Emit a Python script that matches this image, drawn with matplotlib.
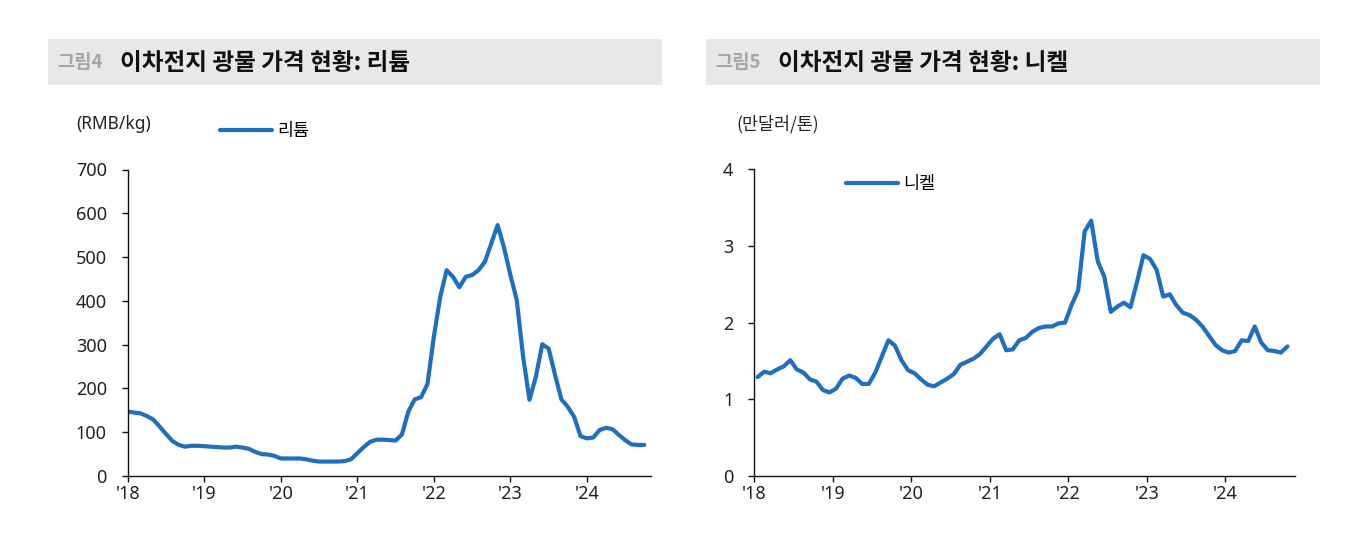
import numpy as np
import matplotlib
matplotlib.use("Agg")
import matplotlib.pyplot as plt
from matplotlib.patches import Rectangle

plt.rcParams['font.family'] = ['Noto Sans', 'Noto Sans CJK KR', 'DejaVu Sans']
KR = ['Noto Sans CJK KR', 'DejaVu Sans']

# ---- data (monthly, Jan 2018 ~ Oct 2024) ----
year_labels = ["'18", "'19", "'20", "'21", "'22", "'23", "'24"]

lithium = [147, 145, 143, 137, 129, 113, 96, 80, 71, 67, 69, 69,
           68, 67, 66, 65, 65, 67, 65, 62, 55, 50, 49, 46,
           40, 40, 40, 40, 38, 35, 33, 33, 33, 33, 34, 38,
           52, 66, 78, 83, 83, 82, 81, 95, 147, 175, 180, 210,
           318, 409, 470, 455, 431, 455, 459, 470, 489, 531, 573, 522,
           459, 402, 272, 174, 227, 301, 291, 231, 175, 158, 135, 91,
           86, 88, 105, 110, 107, 94, 82, 72, 71, 71]

nickel = [1.29, 1.36, 1.34, 1.39, 1.43, 1.51, 1.39, 1.35, 1.26, 1.23, 1.12, 1.09,
          1.14, 1.27, 1.31, 1.28, 1.20, 1.20, 1.35, 1.56, 1.77, 1.70, 1.51, 1.38,
          1.34, 1.26, 1.19, 1.17, 1.22, 1.27, 1.33, 1.45, 1.49, 1.53, 1.59, 1.69,
          1.79, 1.85, 1.64, 1.65, 1.77, 1.80, 1.88, 1.93, 1.95, 1.95, 1.99, 2.00,
          2.23, 2.42, 3.19, 3.33, 2.80, 2.60, 2.14, 2.21, 2.26, 2.20, 2.53, 2.88,
          2.83, 2.69, 2.34, 2.37, 2.23, 2.13, 2.10, 2.04, 1.95, 1.83, 1.71, 1.64,
          1.61, 1.63, 1.77, 1.76, 1.95, 1.74, 1.64, 1.63, 1.61, 1.69]

LINE_COLOR = "#1f6ebf"
W, H = 1356, 539

fig = plt.figure(figsize=(W / 100, H / 100), dpi=100)

def fx(px):
    return px / W

def fy(py):
    return 1 - py / H

# ---- title bars ----
for x0, num, title in [(48, "그림4", "이차전지 광물 가격 현황: 리튬"),
                       (706, "그림5", "이차전지 광물 가격 현황: 니켈")]:
    fig.patches.append(Rectangle((fx(x0), fy(85)), fx(614), 46 / H,
                                 transform=fig.transFigure,
                                 facecolor="#e8e8e8", edgecolor="none"))
    fig.text(fx(x0 + 9), fy(63), num, fontsize=13.5, fontweight="bold",
             color="#a6a6a6", va="center", ha="left", family=KR)
    fig.text(fx(x0 + 72), fy(63), title, fontsize=17, fontweight="bold",
             color="#111111", va="center", ha="left", family=KR)


def style_axis(ax):
    for s in ["top", "right"]:
        ax.spines[s].set_visible(False)
    for s in ["left", "bottom"]:
        ax.spines[s].set_color("#111111")
        ax.spines[s].set_linewidth(1.0)
    ax.tick_params(axis="both", direction="out", length=4.5, width=1,
                   color="#111111", labelsize=13, labelcolor="#222222")
    ax.tick_params(axis="y", pad=10.5)
    ax.tick_params(axis="x", pad=2)


# ---- left: lithium ----
ax1 = fig.add_axes([fx(127.7), fy(476), fx(650.7 - 127.7), (476 - 169.5) / H])
x1 = np.arange(len(lithium))
ax1.plot(x1, lithium, color=LINE_COLOR, lw=3, solid_capstyle="round",
         solid_joinstyle="round", label="리튬")
ax1.set_xlim(0, 82)
ax1.set_ylim(0, 700)
ax1.set_yticks(range(0, 701, 100))
ax1.set_xticks(np.arange(len(year_labels)) * 12)
ax1.set_xticklabels(year_labels)
style_axis(ax1)
ax1.legend(loc="center left", bbox_to_anchor=(fx(220), fy(131)),
           bbox_transform=fig.transFigure, frameon=False,
           prop={"family": KR, "size": 12.5},
           handlelength=3.0, handletextpad=0.3, borderpad=0, borderaxespad=0)
fig.text(fx(76), fy(124), "(RMB/kg)", fontsize=12.5, color="#222222",
         va="center", ha="left")

# ---- right: nickel ----
ax2 = fig.add_axes([fx(754.3), fy(476), fx(1295.3 - 754.3), (476 - 169.3) / H])
x2 = np.arange(len(nickel)) + 0.5
ax2.plot(x2, nickel, color=LINE_COLOR, lw=3, solid_capstyle="round",
         solid_joinstyle="round", label="니켈")
ax2.set_xlim(0, 82.7)
ax2.set_ylim(0, 4)
ax2.set_yticks(range(0, 5))
ax2.set_xticks(np.arange(len(year_labels)) * 12)
ax2.set_xticklabels(year_labels)
style_axis(ax2)
ax2.legend(loc="center left", bbox_to_anchor=(fx(846), fy(184)),
           bbox_transform=fig.transFigure, frameon=False,
           prop={"family": KR, "size": 12.5},
           handlelength=3.0, handletextpad=0.3, borderpad=0, borderaxespad=0)
fig.text(fx(736), fy(124), "(만달러/톤)", fontsize=12.5, color="#222222",
         va="center", ha="left", family=KR)

fig.savefig("out.png", dpi=100)
